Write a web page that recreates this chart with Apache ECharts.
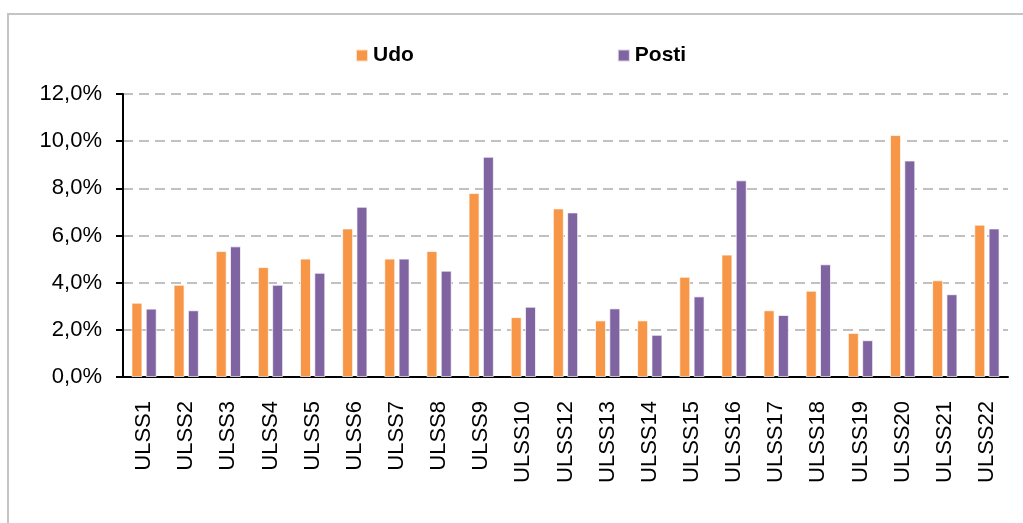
<!DOCTYPE html>
<html>
<head>
<meta charset="utf-8">
<script src="https://cdn.jsdelivr.net/npm/echarts@6/dist/echarts.min.js"></script>
<style>
html, body { margin: 0; padding: 0; background: #fff; }
#chart { width: 1023px; height: 523px; }
</style>
</head>
<body>
<div id="chart"></div>
<script>
// categorie ULSS (manca la 11)
const categories = ['ULSS1', 'ULSS2', 'ULSS3', 'ULSS4', 'ULSS5', 'ULSS6', 'ULSS7', 'ULSS8', 'ULSS9', 'ULSS10',
    'ULSS12', 'ULSS13', 'ULSS14', 'ULSS15', 'ULSS16', 'ULSS17', 'ULSS18', 'ULSS19', 'ULSS20', 'ULSS21', 'ULSS22'];

// valori in %
const udo = [3.15, 3.91, 5.34, 4.66, 5.02, 6.30, 5.02, 5.34, 7.80, 2.54,
    7.15, 2.40, 2.40, 4.25, 5.19, 2.83, 3.66, 1.87, 10.26, 4.10, 6.46];
const posti = [2.90, 2.83, 5.54, 3.91, 4.42, 7.22, 5.02, 4.51, 9.34, 2.98,
    6.98, 2.91, 1.79, 3.42, 8.34, 2.63, 4.78, 1.56, 9.18, 3.51, 6.30];

const seriesNames = ['Udo', 'Posti'];

const myChart = echarts.init(document.getElementById('chart'));

const option = {
    animation: false,
    graphic: [
        {
            type: 'rect',
            shape: { x: 8, y: 14, width: 1100, height: 600 },
            style: { fill: 'none', stroke: '#c4c4c4', lineWidth: 2 }
        }
    ],
    legend: {
        data: seriesNames,
        top: 40,
        left: 350,
        itemGap: 203,
        itemWidth: 12,
        itemHeight: 12,
        icon: 'rect',
        textStyle: {
            fontFamily: 'Liberation Sans',
            fontWeight: 'bold',
            fontSize: 21,
            color: '#000'
        }
    },
    grid: {
        left: 123,
        right: 15,
        top: 94,
        bottom: 146
    },
    xAxis: {
        type: 'category',
        data: categories,
        axisLine: { lineStyle: { color: '#000', width: 2 } },
        axisTick: { show: false },
        axisLabel: {
            rotate: 90,
            interval: 0,
            margin: 24,
            fontFamily: 'Liberation Sans',
            fontSize: 22,
            color: '#000'
        }
    },
    yAxis: {
        type: 'value',
        min: 0,
        max: 12,
        interval: 2,
        axisLine: { show: true, lineStyle: { color: '#000', width: 2 } },
        axisTick: { show: true, length: 7, lineStyle: { color: '#000', width: 2 } },
        axisLabel: {
            margin: 21,
            fontFamily: 'Liberation Sans',
            fontSize: 22,
            color: '#000',
            formatter: function (v) {
                return v.toFixed(1).replace('.', ',') + '%';
            }
        },
        splitLine: {
            lineStyle: { color: '#c0c0c0', width: 2, type: [10, 6] }
        }
    },
    series: [
        {
            name: seriesNames[0],
            type: 'bar',
            data: udo,
            barWidth: 11,
            barGap: '30%',
            itemStyle: { color: '#F79646', borderColor: 'rgba(255,255,255,0.7)', borderWidth: 1 }
        },
        {
            name: seriesNames[1],
            type: 'bar',
            data: posti,
            barWidth: 11,
            barGap: '30%',
            itemStyle: { color: '#8064A2', borderColor: 'rgba(255,255,255,0.7)', borderWidth: 1 }
        }
    ]
};

myChart.setOption(option);
</script>
</body>
</html>
